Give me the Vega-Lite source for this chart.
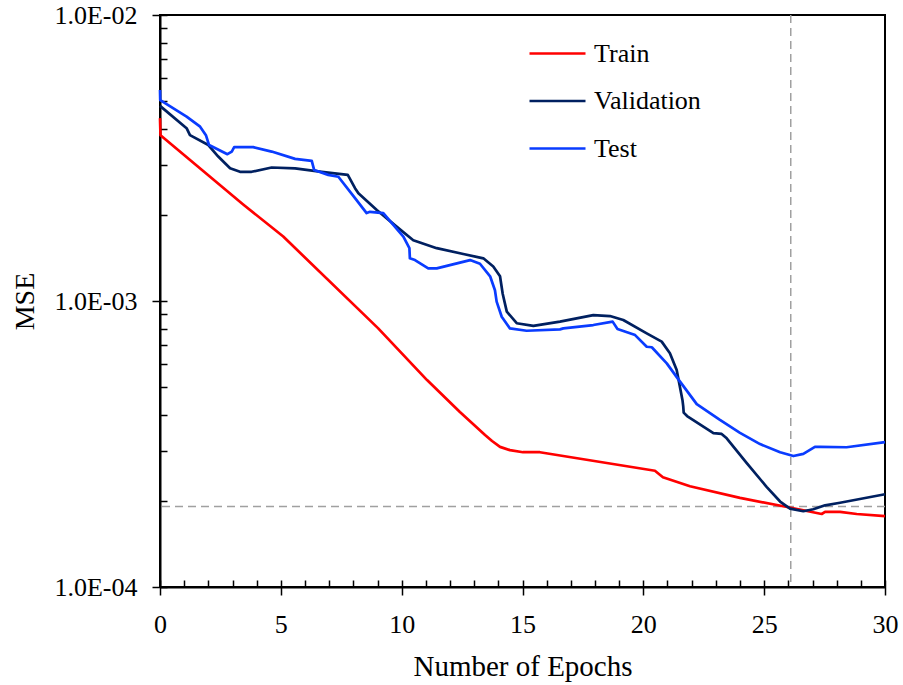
{
  "$schema": "https://vega.github.io/schema/vega-lite/v6.json",
  "width": 725,
  "height": 572,
  "autosize": "none",
  "padding": {"left": 160, "top": 15, "right": 18, "bottom": 98},
  "background": "white",
  "config": {
    "view": {"stroke": "black", "strokeWidth": 2},
    "font": "Liberation Serif",
    "axis": {"grid": false}
  },
  "resolve": {"axis": {"x": "independent", "y": "independent"}},
  "layer": [
    {
      "data": {"values": [{"epoch": 26.1}]},
      "mark": {"type": "rule", "color": "#a0a0a0", "strokeWidth": 1.5, "strokeDash": [8, 5]},
      "encoding": {
        "x": {
          "field": "epoch", "type": "quantitative",
          "scale": {"domain": [0, 30], "nice": false, "zero": false},
          "axis": {
            "orient": "bottom", "values": [0,1,2,3,4,5,6,7,8,9,10,11,12,13,14,15,16,17,18,19,20,21,22,23,24,25,26,27,28,29,30],
            "tickSize": -7, "tickWidth": 1.5, "tickColor": "black", "labels": false, "domain": false, "title": null, "grid": false
          }
        }
      }
    },
    {
      "data": {"values": [{"mse": 0.000191}]},
      "mark": {"type": "rule", "color": "#a0a0a0", "strokeWidth": 1.5, "strokeDash": [8, 5]},
      "encoding": {
        "y": {
          "field": "mse", "type": "quantitative",
          "scale": {"type": "log", "domain": [0.0001, 0.01], "nice": false},
          "axis": {
            "orient": "left",
            "values": [0.0001,0.0002,0.0003,0.0004,0.0005,0.0006,0.0007,0.0008,0.0009,0.001,0.002,0.003,0.004,0.005,0.006,0.007,0.008,0.009,0.01],
            "tickSize": -7, "tickWidth": 1.5, "tickColor": "black", "labels": false, "domain": false, "title": null, "grid": false
          }
        }
      }
    },
    {
      "data": {"values": [
        {"series": "Train", "epoch": 0, "mse": 0.00436},
        {"series": "Train", "epoch": 0.02, "mse": 0.0038},
        {"series": "Train", "epoch": 3.43, "mse": 0.00218},
        {"series": "Train", "epoch": 5.1, "mse": 0.00168},
        {"series": "Train", "epoch": 9.02, "mse": 0.000804},
        {"series": "Train", "epoch": 11.05, "mse": 0.000529},
        {"series": "Train", "epoch": 12.41, "mse": 0.000409},
        {"series": "Train", "epoch": 13.45, "mse": 0.00034},
        {"series": "Train", "epoch": 13.74, "mse": 0.000324},
        {"series": "Train", "epoch": 14.07, "mse": 0.000309},
        {"series": "Train", "epoch": 14.48, "mse": 0.000301},
        {"series": "Train", "epoch": 15.02, "mse": 0.000296},
        {"series": "Train", "epoch": 15.72, "mse": 0.000296},
        {"series": "Train", "epoch": 20.48, "mse": 0.000255},
        {"series": "Train", "epoch": 20.81, "mse": 0.000242},
        {"series": "Train", "epoch": 21.93, "mse": 0.000225},
        {"series": "Train", "epoch": 24.0, "mse": 0.000205},
        {"series": "Train", "epoch": 26.0, "mse": 0.00019},
        {"series": "Train", "epoch": 27.38, "mse": 0.00018},
        {"series": "Train", "epoch": 27.52, "mse": 0.000183},
        {"series": "Train", "epoch": 28.14, "mse": 0.000183},
        {"series": "Train", "epoch": 28.83, "mse": 0.00018},
        {"series": "Train", "epoch": 30, "mse": 0.000177},

        {"series": "Validation", "epoch": 0, "mse": 0.00481},
        {"series": "Validation", "epoch": 1.1, "mse": 0.00402},
        {"series": "Validation", "epoch": 1.24, "mse": 0.0038},
        {"series": "Validation", "epoch": 2.0, "mse": 0.00351},
        {"series": "Validation", "epoch": 2.41, "mse": 0.0032},
        {"series": "Validation", "epoch": 2.9, "mse": 0.00291},
        {"series": "Validation", "epoch": 3.31, "mse": 0.00283},
        {"series": "Validation", "epoch": 3.79, "mse": 0.00283},
        {"series": "Validation", "epoch": 4.62, "mse": 0.00293},
        {"series": "Validation", "epoch": 5.59, "mse": 0.00291},
        {"series": "Validation", "epoch": 6.69, "mse": 0.00283},
        {"series": "Validation", "epoch": 7.77, "mse": 0.00276},
        {"series": "Validation", "epoch": 8.07, "mse": 0.00248},
        {"series": "Validation", "epoch": 8.21, "mse": 0.00238},
        {"series": "Validation", "epoch": 8.97, "mse": 0.00208},
        {"series": "Validation", "epoch": 9.79, "mse": 0.00182},
        {"series": "Validation", "epoch": 10.48, "mse": 0.00163},
        {"series": "Validation", "epoch": 11.45, "mse": 0.00153},
        {"series": "Validation", "epoch": 12.55, "mse": 0.00146},
        {"series": "Validation", "epoch": 13.38, "mse": 0.00141},
        {"series": "Validation", "epoch": 13.79, "mse": 0.00132},
        {"series": "Validation", "epoch": 14.07, "mse": 0.00122},
        {"series": "Validation", "epoch": 14.18, "mse": 0.00106},
        {"series": "Validation", "epoch": 14.35, "mse": 0.000918},
        {"series": "Validation", "epoch": 14.76, "mse": 0.000836},
        {"series": "Validation", "epoch": 15.45, "mse": 0.000818},
        {"series": "Validation", "epoch": 16.55, "mse": 0.000847},
        {"series": "Validation", "epoch": 17.93, "mse": 0.000893},
        {"series": "Validation", "epoch": 18.62, "mse": 0.000886},
        {"series": "Validation", "epoch": 19.17, "mse": 0.000858},
        {"series": "Validation", "epoch": 20.14, "mse": 0.000771},
        {"series": "Validation", "epoch": 20.76, "mse": 0.000721},
        {"series": "Validation", "epoch": 21.1, "mse": 0.000657},
        {"series": "Validation", "epoch": 21.38, "mse": 0.000574},
        {"series": "Validation", "epoch": 21.62, "mse": 0.00045},
        {"series": "Validation", "epoch": 21.65, "mse": 0.000429},
        {"series": "Validation", "epoch": 21.67, "mse": 0.000407},
        {"series": "Validation", "epoch": 21.81, "mse": 0.000396},
        {"series": "Validation", "epoch": 22.9, "mse": 0.000345},
        {"series": "Validation", "epoch": 23.24, "mse": 0.000343},
        {"series": "Validation", "epoch": 23.45, "mse": 0.000331},
        {"series": "Validation", "epoch": 24.28, "mse": 0.000271},
        {"series": "Validation", "epoch": 25.1, "mse": 0.000224},
        {"series": "Validation", "epoch": 25.66, "mse": 0.000199},
        {"series": "Validation", "epoch": 26.07, "mse": 0.000188},
        {"series": "Validation", "epoch": 26.62, "mse": 0.000184},
        {"series": "Validation", "epoch": 27.03, "mse": 0.000187},
        {"series": "Validation", "epoch": 27.52, "mse": 0.000193},
        {"series": "Validation", "epoch": 28.14, "mse": 0.000197},
        {"series": "Validation", "epoch": 30, "mse": 0.000211},

        {"series": "Test", "epoch": 0, "mse": 0.00547},
        {"series": "Test", "epoch": 0.01, "mse": 0.00504},
        {"series": "Test", "epoch": 1.1, "mse": 0.00441},
        {"series": "Test", "epoch": 1.66, "mse": 0.00407},
        {"series": "Test", "epoch": 1.9, "mse": 0.0038},
        {"series": "Test", "epoch": 2.03, "mse": 0.00351},
        {"series": "Test", "epoch": 2.79, "mse": 0.00326},
        {"series": "Test", "epoch": 2.97, "mse": 0.00333},
        {"series": "Test", "epoch": 3.07, "mse": 0.00345},
        {"series": "Test", "epoch": 3.86, "mse": 0.00345},
        {"series": "Test", "epoch": 4.62, "mse": 0.00333},
        {"series": "Test", "epoch": 5.59, "mse": 0.00314},
        {"series": "Test", "epoch": 6.28, "mse": 0.00309},
        {"series": "Test", "epoch": 6.38, "mse": 0.00287},
        {"series": "Test", "epoch": 6.96, "mse": 0.00276},
        {"series": "Test", "epoch": 7.38, "mse": 0.00272},
        {"series": "Test", "epoch": 8.07, "mse": 0.00229},
        {"series": "Test", "epoch": 8.55, "mse": 0.00203},
        {"series": "Test", "epoch": 8.69, "mse": 0.00205},
        {"series": "Test", "epoch": 9.24, "mse": 0.00203},
        {"series": "Test", "epoch": 10.07, "mse": 0.00168},
        {"series": "Test", "epoch": 10.32, "mse": 0.00153},
        {"series": "Test", "epoch": 10.34, "mse": 0.00141},
        {"series": "Test", "epoch": 10.55, "mse": 0.00139},
        {"series": "Test", "epoch": 11.1, "mse": 0.0013},
        {"series": "Test", "epoch": 11.45, "mse": 0.0013},
        {"series": "Test", "epoch": 12.83, "mse": 0.00139},
        {"series": "Test", "epoch": 13.24, "mse": 0.00135},
        {"series": "Test", "epoch": 13.66, "mse": 0.00122},
        {"series": "Test", "epoch": 13.86, "mse": 0.00109},
        {"series": "Test", "epoch": 13.93, "mse": 0.000995},
        {"series": "Test", "epoch": 14.14, "mse": 0.000881},
        {"series": "Test", "epoch": 14.48, "mse": 0.000802},
        {"series": "Test", "epoch": 15.17, "mse": 0.000787},
        {"series": "Test", "epoch": 16.55, "mse": 0.000796},
        {"series": "Test", "epoch": 16.69, "mse": 0.000802},
        {"series": "Test", "epoch": 17.93, "mse": 0.000824},
        {"series": "Test", "epoch": 18.73, "mse": 0.000847},
        {"series": "Test", "epoch": 18.93, "mse": 0.000798},
        {"series": "Test", "epoch": 19.66, "mse": 0.00076},
        {"series": "Test", "epoch": 20.14, "mse": 0.000692},
        {"series": "Test", "epoch": 20.35, "mse": 0.000689},
        {"series": "Test", "epoch": 20.97, "mse": 0.000605},
        {"series": "Test", "epoch": 21.45, "mse": 0.000532},
        {"series": "Test", "epoch": 22.21, "mse": 0.000436},
        {"series": "Test", "epoch": 23.17, "mse": 0.000384},
        {"series": "Test", "epoch": 24.0, "mse": 0.000346},
        {"series": "Test", "epoch": 24.83, "mse": 0.000316},
        {"series": "Test", "epoch": 25.66, "mse": 0.000296},
        {"series": "Test", "epoch": 26.21, "mse": 0.000287},
        {"series": "Test", "epoch": 26.62, "mse": 0.000292},
        {"series": "Test", "epoch": 27.1, "mse": 0.000309},
        {"series": "Test", "epoch": 27.31, "mse": 0.000309},
        {"series": "Test", "epoch": 28.41, "mse": 0.000308},
        {"series": "Test", "epoch": 30, "mse": 0.000321}
      ]},
      "mark": {"type": "line", "strokeWidth": 2.7, "interpolate": "linear", "strokeJoin": "round"},
      "encoding": {
        "x": {
          "field": "epoch", "type": "quantitative",
          "scale": {"domain": [0, 30], "nice": false, "zero": false},
          "axis": {
            "orient": "bottom", "values": [0, 5, 10, 15, 20, 25, 30], "format": "d",
            "tickSize": 8, "tickWidth": 1.5, "tickColor": "black",
            "domainColor": "black", "domainWidth": 2,
            "labelFont": "Liberation Serif", "labelFontSize": 26, "labelColor": "black",
            "labelBaseline": "alphabetic", "labelPadding": 37, "labelFlush": false,
            "title": "Number of Epochs", "titleFont": "Liberation Serif", "titleFontSize": 29,
            "titleFontWeight": "normal", "titleColor": "black", "titleBaseline": "alphabetic",
            "titleX": 362.5, "titleY": 88, "titleAlign": "center", "grid": false
          }
        },
        "y": {
          "field": "mse", "type": "quantitative",
          "scale": {"type": "log", "domain": [0.0001, 0.01], "nice": false},
          "axis": {
            "orient": "left", "values": [0.0001, 0.001, 0.01],
            "labelExpr": "datum.value > 0.005 ? '1.0E-02' : datum.value > 0.0005 ? '1.0E-03' : '1.0E-04'",
            "tickSize": 8, "tickWidth": 1.5, "tickColor": "black",
            "domainColor": "black", "domainWidth": 2,
            "labelFont": "Liberation Serif", "labelFontSize": 26, "labelColor": "black",
            "labelPadding": 15, "labelFlush": false,
            "title": "MSE", "titleFont": "Liberation Serif", "titleFontSize": 28,
            "titleFontWeight": "normal", "titleColor": "black", "titleAngle": -90,
            "titleBaseline": "alphabetic", "titleAlign": "center", "titleX": -127, "titleY": 286,
            "grid": false
          }
        },
        "color": {
          "field": "series", "type": "nominal",
          "scale": {"domain": ["Train", "Validation", "Test"], "range": ["#ff0000", "#002060", "#0a3cff"]},
          "legend": {
            "title": null, "orient": "none", "legendX": 368, "legendY": 9,
            "symbolType": "stroke", "symbolSize": 3136, "symbolStrokeWidth": 2.7,
            "labelFont": "Liberation Serif", "labelFontSize": 26, "labelColor": "black",
            "labelOffset": 7, "rowPadding": 4.5
          }
        }
      }
    }
  ]
}
